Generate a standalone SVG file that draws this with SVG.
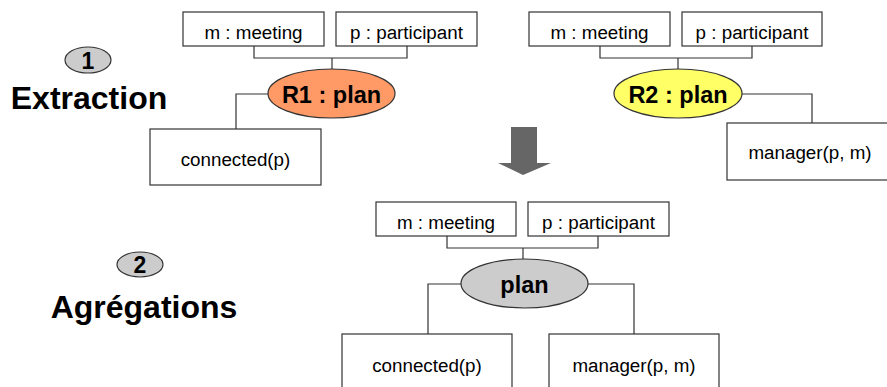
<svg xmlns="http://www.w3.org/2000/svg" width="887" height="387" viewBox="0 0 887 387">
<style>
.box{fill:#fff;stroke:#333;stroke-width:1.2}
.t{font-family:"Liberation Sans",Arial,sans-serif;font-size:18.8px;fill:#000;text-anchor:middle}
.b{font-family:"Liberation Sans",Arial,sans-serif;font-weight:bold;fill:#000;text-anchor:middle}
.ell{stroke:#333;stroke-width:1.2}
.con{fill:none;stroke:#333;stroke-width:1.2}
</style>
<rect width="887" height="387" fill="#fff"/>
<g id="step1">
<ellipse cx="88" cy="60" rx="23" ry="13" fill="#ccc" class="ell"/>
<text x="88" y="68.5" class="b" font-size="23">1</text>
<text x="89" y="109" class="b" font-size="32">Extraction</text>
</g>
<g id="step2">
<ellipse cx="140" cy="264.5" rx="23" ry="12.5" fill="#ccc" class="ell"/>
<text x="140" y="273" class="b" font-size="23">2</text>
<text x="144" y="318" class="b" font-size="32">Agrégations</text>
</g>
<g id="connectors">
<polyline class="con" points="254,46 254,58 407,58 407,46"/>
<line class="con" x1="332" y1="58" x2="332" y2="69"/>
<polyline class="con" points="268,94 236,94 236,129"/>
<polyline class="con" points="600,46 600,58 752,58 752,46"/>
<line class="con" x1="678" y1="58" x2="678" y2="69"/>
<polyline class="con" points="742,94 812,94 812,123"/>
<polyline class="con" points="447,236 447,248 598,248 598,236"/>
<line class="con" x1="523" y1="248" x2="523" y2="259"/>
<polyline class="con" points="461,284 428,284 428,334"/>
<polyline class="con" points="588,284 634,284 634,334"/>
</g>
<g id="arrow">
<polygon points="511,127 537,127 537,163 551,163 523,175 498,163 511,163" fill="#666"/>
</g>
<g id="r1-meeting"><rect class="box" x="183" y="12" width="141" height="34"/><text class="t" x="253.5" y="38.5">m : meeting</text></g>
<g id="r1-participant"><rect class="box" x="336" y="12" width="141" height="34"/><text class="t" x="406.5" y="38.5">p : participant</text></g>
<g id="r1-plan"><ellipse class="ell" cx="331.5" cy="93.5" rx="63.5" ry="24.5" fill="#f96"/><text class="b" font-size="23.5" x="331.5" y="103">R1 : plan</text></g>
<g id="r1-connected"><rect class="box" x="150" y="129" width="171" height="56"/><text class="t" x="235.5" y="166">connected(p)</text></g>
<g id="r2-meeting"><rect class="box" x="529" y="12" width="141" height="34"/><text class="t" x="599.5" y="38.5">m : meeting</text></g>
<g id="r2-participant"><rect class="box" x="682" y="12" width="140" height="34"/><text class="t" x="752" y="38.5">p : participant</text></g>
<g id="r2-plan"><ellipse class="ell" cx="678" cy="93.5" rx="64" ry="24.5" fill="#ff6"/><text class="b" font-size="23.5" x="678" y="103">R2 : plan</text></g>
<g id="r2-manager"><rect class="box" x="727" y="123" width="170" height="57"/><text class="t" x="810" y="159">manager(p, m)</text></g>
<g id="agg-meeting"><rect class="box" x="376" y="202" width="140" height="34"/><text class="t" x="446" y="228.5">m : meeting</text></g>
<g id="agg-participant"><rect class="box" x="528" y="202" width="141" height="34"/><text class="t" x="598.5" y="228.5">p : participant</text></g>
<g id="agg-plan"><ellipse class="ell" cx="524.5" cy="283.5" rx="63.5" ry="24.5" fill="#ccc"/><text class="b" font-size="23.5" x="524.5" y="293">plan</text></g>
<g id="agg-connected"><rect class="box" x="342" y="334" width="170" height="70"/><text class="t" x="427" y="372">connected(p)</text></g>
<g id="agg-manager"><rect class="box" x="549" y="334" width="170" height="70"/><text class="t" x="634" y="372">manager(p, m)</text></g>
</svg>
